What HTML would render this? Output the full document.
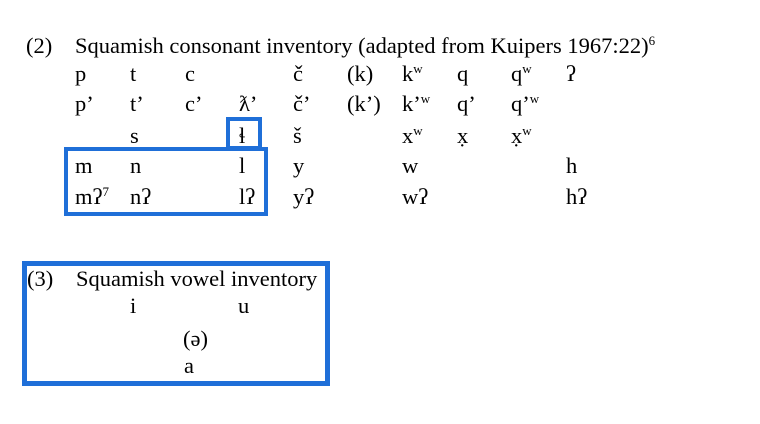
<!DOCTYPE html>
<html><head><meta charset="utf-8"><style>
body{margin:0;width:760px;height:424px;background:#fff;position:relative;overflow:hidden;font-family:"Liberation Serif",serif;font-size:22.5px;color:#000}
span{position:absolute;line-height:22px;white-space:nowrap}
sup{font-size:13px;vertical-align:8px;line-height:0}
.b{position:absolute;border:4px solid #1f6fd8;box-sizing:border-box}
</style></head><body>
<span style="left:26px;top:35px">(2)</span>
<span style="left:75px;top:35px">Squamish consonant inventory (adapted from Kuipers 1967:22)<sup>6</sup></span>

<span style="left:75px;top:63px">p</span><span style="left:130px;top:63px">t</span><span style="left:185px;top:63px">c</span><span style="left:293px;top:63px">č</span><span style="left:347px;top:63px">(k)</span><span style="left:402px;top:63px">k<sup>w</sup></span><span style="left:457px;top:63px">q</span><span style="left:511px;top:63px">q<sup>w</sup></span><span style="left:566px;top:63px">ʔ</span>

<span style="left:75px;top:93px">p’</span><span style="left:130px;top:93px">t’</span><span style="left:185px;top:93px">c’</span><span style="left:239px;top:93px">ƛ’</span><span style="left:293px;top:93px">č’</span><span style="left:347px;top:93px">(k’)</span><span style="left:402px;top:93px">k’<sup>w</sup></span><span style="left:457px;top:93px">q’</span><span style="left:511px;top:93px">q’<sup>w</sup></span>

<span style="left:130px;top:125px">s</span><span style="left:239px;top:125px">ɬ</span><span style="left:293px;top:125px">š</span><span style="left:402px;top:125px">x<sup>w</sup></span><span style="left:457px;top:125px">x̣</span><span style="left:511px;top:125px">x̣<sup>w</sup></span>

<span style="left:75px;top:155px">m</span><span style="left:130px;top:155px">n</span><span style="left:239px;top:155px">l</span><span style="left:293px;top:155px">y</span><span style="left:402px;top:155px">w</span><span style="left:566px;top:155px">h</span>

<span style="left:75px;top:186px">mʔ<sup>7</sup></span><span style="left:130px;top:186px">nʔ</span><span style="left:239px;top:186px">lʔ</span><span style="left:293px;top:186px">yʔ</span><span style="left:402px;top:186px">wʔ</span><span style="left:566px;top:186px">hʔ</span>

<div class="b" style="left:226px;top:117px;width:36px;height:33px"></div>
<div class="b" style="left:64px;top:147px;width:204px;height:69px"></div>

<div class="b" style="left:22px;top:261px;width:308px;height:125px;border-width:5px"></div>
<span style="left:27px;top:268px">(3)</span>
<span style="left:76px;top:268px">Squamish vowel inventory</span>
<span style="left:130px;top:295px">i</span>
<span style="left:238px;top:295px">u</span>
<span style="left:183px;top:328px">(ə)</span>
<span style="left:184px;top:355px">a</span>
</body></html>
